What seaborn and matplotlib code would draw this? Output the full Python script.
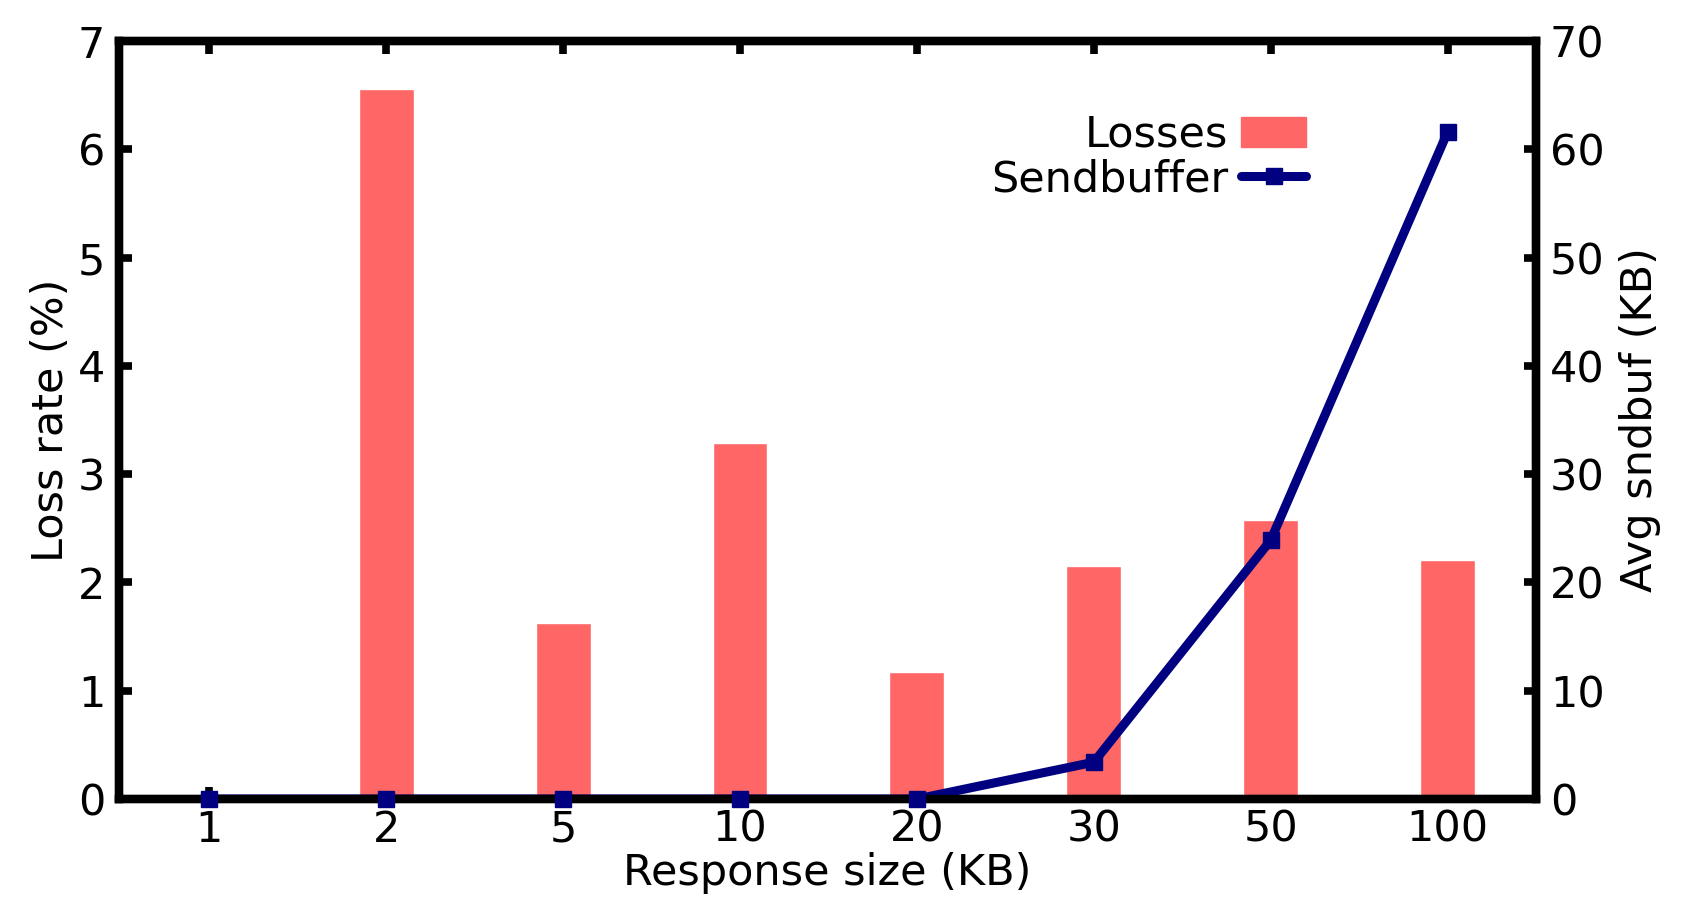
import numpy as np
import matplotlib
matplotlib.use("Agg")
import matplotlib.pyplot as plt
import seaborn as sns
from matplotlib.patches import Patch
from matplotlib.lines import Line2D

# datos
tamanos = ['1', '2', '5', '10', '20', '30', '50', '100']
perdidas = [0.0, 6.56, 1.63, 3.29, 1.17, 2.15, 2.58, 2.21]
sndbuf = [0.0, 0.0, 0.0, 0.0, 0.0, 3.4, 23.9, 61.6]

sns.set_style('white')
plt.rcParams['font.family'] = ['DejaVu Sans']
plt.rcParams['font.size'] = 31
for k in ('text.color', 'axes.labelcolor', 'xtick.color', 'ytick.color'):
    plt.rcParams[k] = 'black'

fig = plt.figure(figsize=(16.96, 9.06), dpi=100)
ax = fig.add_axes([0.0702, 0.1181, 0.8355, 0.8366])

sns.barplot(x=tamanos, y=perdidas, color='#FF6666', saturation=1, width=0.31, ax=ax)
ax.set_ylim(0, 7)
ax.set_xlim(-0.51, 7.5)
ax.set_yticks(range(0, 8))
ax.set_ylabel('Loss rate (%)', labelpad=4)
ax.set_xlabel('Response size (KB)', labelpad=1)

ax2 = ax.twinx()
x = np.arange(len(tamanos))
# la linea queda debajo del eje, los marcadores encima
ax2.plot(x, sndbuf, color='#000080', linewidth=6.5, zorder=2)
ax2.plot(x, sndbuf, color='#000080', linestyle='none', marker='s',
         markersize=12, clip_on=False, zorder=3)
ax2.set_ylim(0, 70)
ax2.set_yticks(range(0, 80, 10))
ax2.set_ylabel('Avg sndbuf (KB)', labelpad=10)

for a in (ax, ax2):
    for s in a.spines.values():
        s.set_linewidth(6)
        s.set_color('black')
ax.tick_params(axis='x', direction='in', length=9, width=5.5, top=True, bottom=True, pad=7)
ax.tick_params(axis='y', direction='in', length=9, width=5.5, left=True, right=False, pad=10)
ax2.tick_params(axis='y', direction='in', length=9, width=5.5, right=True, pad=10)

handles = [Patch(color='#FF6666'),
           Line2D([0], [0], color='#000080', linewidth=6.5, marker='s', markersize=12)]
ax.legend(handles, ['Losses', 'Sendbuffer'], loc='upper right', bbox_to_anchor=(0.865, 0.955),
          frameon=False, markerfirst=False, handlelength=1.5, handletextpad=0.3,
          labelspacing=0.05, fontsize=31)

fig.savefig('out.png', dpi=100)
